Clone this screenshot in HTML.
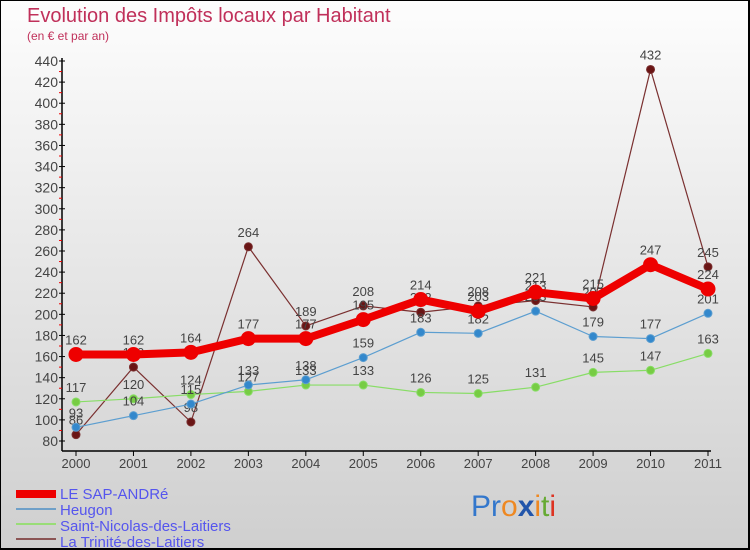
<!DOCTYPE html>
<html><head><meta charset="utf-8"><style>
body{margin:0}
#wrap{position:relative;width:750px;height:550px;box-sizing:border-box;border:1px solid #000;border-bottom-width:2px;border-right-width:2px;background:linear-gradient(#fdfdfd,#cfcfcf);font-family:"Liberation Sans",sans-serif;overflow:hidden}
svg text{font-family:"Liberation Sans",sans-serif}
</style></head><body>
<div id="wrap">
<svg id="chart" width="750" height="550">
<text x="26" y="21" font-size="20" fill="#c0305a">Evolution des Impôts locaux par Habitant</text>
<text x="26" y="39" font-size="12" fill="#c0305a">(en € et par an)</text>
<g id="axes"></g><g id="series"></g>
<g>
<rect x="15" y="489" width="40" height="8" fill="#e00"/>
<text x="59" y="498" font-size="15" fill="#5555ee">LE SAP-ANDRé</text>
<rect x="15" y="507" width="40" height="2" fill="#6fa0c8"/>
<text x="59" y="514" font-size="15" fill="#5555ee">Heugon</text>
<rect x="15" y="522" width="40" height="2" fill="#99dd77"/>
<text x="59" y="530" font-size="15" fill="#5555ee">Saint-Nicolas-des-Laitiers</text>
<rect x="15" y="537" width="40" height="2" fill="#8b5555"/>
<text x="59" y="546" font-size="15" fill="#5555ee">La Trinité-des-Laitiers</text>
</g>
<text x="470" y="515" font-size="30"><tspan fill="#3377cc">Pr</tspan><tspan fill="#ee8822">o</tspan><tspan fill="#2255aa" font-weight="bold">x</tspan><tspan fill="#ee8822">i</tspan><tspan fill="#66aa33">t</tspan><tspan fill="#dd3322">i</tspan></text>
</svg>
</div>
<script>
const years=["2000","2001","2002","2003","2004","2005","2006","2007","2008","2009","2010","2011"];
const yTicks=[80,100,120,140,160,180,200,220,240,260,280,300,320,340,360,380,400,420,440];
const sapAndre=[162,162,164,177,177,195,214,203,221,215,247,224];
const heugon=[93,104,115,133,138,159,183,182,203,179,177,201];
const saintNicolas=[117,120,124,127,133,133,126,125,131,145,147,163];
const trinite=[86,150,98,264,189,208,202,208,213,207,432,245];

const NS="http://www.w3.org/2000/svg";
const x0=75,x1=707,yBase=440,yTop=60,vMin=80,vMax=440;
function xs(i){return x0+(x1-x0)*i/(years.length-1);}
function ys(v){return yBase-(v-vMin)*(yBase-yTop)/(vMax-vMin);}
function mk(tag,attrs,parent){const e=document.createElementNS(NS,tag);for(const k in attrs)e.setAttribute(k,attrs[k]);parent.appendChild(e);return e;}
const axes=document.getElementById('axes');
let a=mk('line',{x1:61,y1:ys(440)-3,x2:61,y2:450,stroke:'#000','stroke-width':1.5},axes);


a=mk('line',{x1:61,y1:450,x2:710,y2:450,stroke:'#000','stroke-width':1.5},axes);


yTicks.forEach((v,i)=>{
 const y=ys(v);
 mk('line',{x1:58,y1:y,x2:64,y2:y,stroke:'#000'},axes);
 const t=mk('text',{x:57,y:y+5,'font-size':14,'text-anchor':'end',fill:'#444'},axes);
 t.textContent=v;
 
 
 if(i<yTicks.length-1){const ym=ys(v+10);mk('line',{x1:58,y1:ym,x2:61,y2:ym,stroke:'#e00'},axes);}
});
years.forEach((yr,i)=>{
 const x=xs(i);
 mk('line',{x1:x,y1:450,x2:x,y2:455,stroke:'#000'},axes);
 const t=mk('text',{x:x,y:467,'font-size':13,'text-anchor':'middle',fill:'#444'},axes);
 t.textContent=yr;
 
 
});
const sg=document.getElementById('series');
function draw(vals,name,color,lw,r,dot){
 const g=mk('g',{},sg);
 
 
 const pl=mk('polyline',{points:vals.map((v,i)=>xs(i)+','+ys(v)).join(' '),fill:'none',stroke:color,'stroke-width':lw,'stroke-linejoin':'round'},g);
 
 
 vals.forEach((v,i)=>{
  const c=mk('circle',{cx:xs(i),cy:ys(v),r:r,fill:dot,stroke:color,'stroke-width':1},g);
  
  
  const t=mk('text',{x:xs(i),y:ys(v)-10,'font-size':13,'text-anchor':'middle',fill:'#444'},g);
  t.textContent=v;
  
  
 });
}
draw(trinite,'trinite','#7a3030',1.2,4,'#6a1515');
draw(saintNicolas,'saint-nicolas','#88dd66',1.2,4,'#77cc44');
draw(heugon,'heugon','#5c9ed0',1.2,4,'#3388cc');
draw(sapAndre,'sap-andre','#ee0000',8,7,'#ee0000');
</script>
</body></html>
